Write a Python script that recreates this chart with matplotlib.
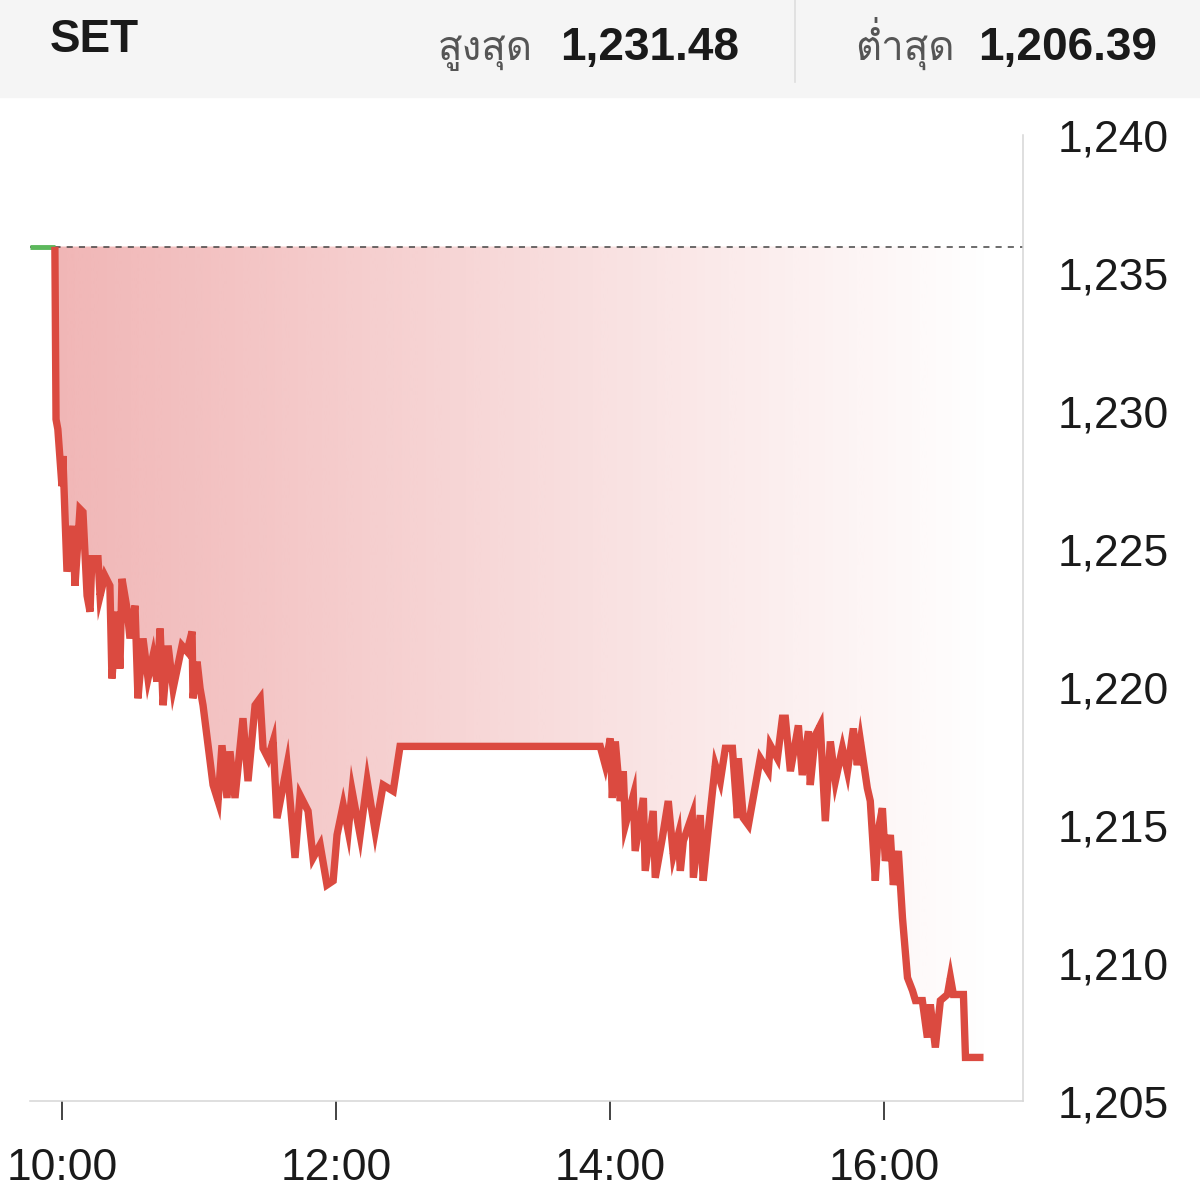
import numpy as np
import matplotlib
matplotlib.use("Agg")
import matplotlib.pyplot as plt
from matplotlib import font_manager
from matplotlib.ft2font import FT2Font
from matplotlib.colors import to_rgb

# SET index, intraday (minutes after 10:00)
prev_close = 1235.96
day_high = "1,231.48"
day_low = "1,206.39"
pre_open = [-14.0, -3.1]

minutes = [
    -3.1, -2.6, -1.8, 0.0, 0.4, 2.2, 4.8, 5.7, 7.9, 9.2, 11.0, 12.3, 13.1, 15.8,
    16.7, 18.8, 21.0, 21.9, 24.1, 25.4, 26.3, 28.5, 29.8, 32.0, 33.3, 35.5, 37.7,
    39.9, 41.6, 43.0, 44.3, 46.5, 48.7, 52.6, 54.8, 57.0, 57.4, 59.2, 60.5, 61.8,
    64.0, 66.2, 68.4, 70.1, 72.3, 73.6, 75.8, 79.3, 81.5, 84.6, 86.8, 88.1, 90.3,
    92.5, 94.2, 98.6, 102.1, 104.3, 107.8, 110.0, 113.1, 116.1, 118.8, 120.5,
    123.2, 125.4, 127.1, 130.6, 133.7, 137.2, 140.7, 145.1, 148.1,
    235.8, 238.0, 240.2, 241.1, 242.4, 244.6, 245.9, 246.8, 250.3, 251.1, 254.7,
    255.5, 259.0, 259.9, 263.0, 265.6, 267.8, 270.0, 270.9, 272.2, 276.1, 276.6,
    279.6, 280.9, 283.1, 286.2, 288.4, 290.6, 293.7, 295.9, 296.3, 298.5, 300.7,
    305.9, 309.4, 310.3, 313.4, 315.6, 316.9, 319.1, 322.6, 324.3, 327.0, 327.8,
    330.0, 332.2, 334.4, 336.6, 338.8, 341.9, 344.1, 346.7, 348.4, 349.8, 352.8,
    354.1, 356.3, 357.6, 359.4, 360.7, 362.9, 364.2, 366.4, 368.2, 370.4, 372.6,
    373.9, 376.9, 379.1, 380.4, 382.6, 384.8, 387.9, 389.2, 390.5, 394.9, 395.8,
    403.7,
]
values = [
    1235.95, 1229.70, 1229.34, 1227.28, 1228.37, 1224.18, 1225.84, 1223.67,
    1226.45, 1226.34, 1223.31, 1222.73, 1224.65, 1224.65, 1223.31, 1224.03,
    1223.67, 1220.31, 1222.73, 1220.67, 1223.92, 1222.84, 1221.76, 1222.95,
    1219.59, 1221.76, 1220.31, 1221.14, 1220.20, 1222.12, 1219.34, 1221.50,
    1219.95, 1221.50, 1221.29, 1222.01, 1219.59, 1220.92, 1219.95, 1219.34,
    1217.89, 1216.45, 1215.87, 1217.89, 1215.98, 1217.67, 1215.98, 1218.87,
    1216.59, 1219.34, 1219.59, 1217.78, 1217.42, 1218.03, 1215.25, 1217.17,
    1213.81, 1216.08, 1215.51, 1213.81, 1214.28, 1212.83, 1212.98, 1214.64,
    1215.72, 1214.78, 1216.23, 1214.64, 1216.59, 1214.78, 1216.45, 1216.23,
    1217.85,
    1217.85, 1217.17, 1218.14, 1215.98, 1218.03, 1215.87, 1216.95, 1215.00,
    1216.08, 1214.06, 1215.98, 1213.34, 1215.51, 1213.09, 1214.53, 1215.87,
    1213.92, 1214.64, 1213.34, 1214.42, 1215.36, 1213.09, 1215.36, 1212.98,
    1214.78, 1217.17, 1216.59, 1217.78, 1217.78, 1215.25, 1217.42, 1215.25,
    1215.00, 1217.42, 1216.95, 1217.89, 1217.42, 1218.87, 1218.87, 1216.95,
    1218.61, 1216.81, 1218.40, 1216.45, 1218.25, 1218.61, 1215.14, 1218.03,
    1216.59, 1217.78, 1216.95, 1218.50, 1217.17, 1218.03, 1216.34, 1215.87,
    1212.98, 1214.80, 1215.61, 1213.70, 1214.64, 1212.83, 1214.06, 1211.64,
    1209.47, 1209.00, 1208.64, 1208.64, 1207.30, 1208.50, 1206.94, 1208.64,
    1208.86, 1209.47, 1208.86, 1208.86, 1206.58, 1206.58,
]
tick_minutes = [0, 120, 240, 360]
tick_labels = ["10:00", "12:00", "14:00", "16:00"]
y_ticks = [1205, 1210, 1215, 1220, 1225, 1230, 1235, 1240]


def find_thai_font():
    # look for any installed font that carries Thai glyphs
    for f in font_manager.fontManager.ttflist:
        try:
            if 0x0E2A in FT2Font(f.fname).get_charmap():
                return f.name
        except Exception:
            pass
    return "DejaVu Sans"


thai = find_thai_font()
plt.rcParams["font.family"] = ["Liberation Sans", "DejaVu Sans"]

fig = plt.figure(figsize=(12, 11.96), dpi=100)
ax = fig.add_axes([0.025, 0.0794, 0.8275, 0.8077])

red = "#db4a40"

# gradient fill between the line and previous close
poly = ax.fill_between(minutes, values, prev_close, color="none", lw=0)
grad = np.linspace(0.46, 0.0, 256).reshape(1, -1)
rgba = np.zeros((1, 256, 4))
rgba[..., :3] = to_rgb("#e06060")
rgba[..., 3] = grad
im = ax.imshow(rgba, extent=[minutes[0], 408, 1205, prev_close],
               aspect="auto", origin="lower", zorder=1, interpolation="bilinear")
im.set_clip_path(poly.get_paths()[0], transform=ax.transData)

ax.axhline(prev_close, color="#444444", lw=1.1, dashes=(4, 4), zorder=2)
ax.plot(pre_open, [prev_close, prev_close], color="#5cb85c", lw=3.5,
        solid_capstyle="butt", zorder=3)
ax.plot(minutes, values, color=red, lw=5.3, solid_joinstyle="miter",
        solid_capstyle="butt", zorder=4)

ax.set_xlim(-14, 421)
ax.set_ylim(1205.07, 1240)

ax.set_xticks(tick_minutes)
ax.set_xticklabels(tick_labels)
ax.set_yticks(y_ticks)
ax.set_yticklabels([f"{v:,}" for v in y_ticks])
ax.yaxis.tick_right()
ax.tick_params(axis="y", length=0, pad=25, labelsize=32, labelcolor="#1a1a1a")
ax.tick_params(axis="x", length=14, width=1.1, color="#111111", pad=20,
               labelsize=32, labelcolor="#1a1a1a")

for side in ["left", "top"]:
    ax.spines[side].set_visible(False)
for side in ["right", "bottom"]:
    ax.spines[side].set_color("#d6d6d6")
    ax.spines[side].set_linewidth(1.1)

# header band
fig.patches.append(plt.Rectangle((0, 1 - 97 / 1196), 1, 97 / 1196,
                                 transform=fig.transFigure, color="#f5f5f5",
                                 zorder=0))
fig.add_artist(plt.Line2D([795 / 1200, 795 / 1200], [1 - 82 / 1196, 1],
                          transform=fig.transFigure, color="#dddddd", lw=1.2))

base = 1 - 60 / 1196
fig.text(50 / 1200, 1 - 40 / 1196, "SET", fontsize=33, fontweight="bold",
         color="#1a1a1a", va="center")
fig.text(438 / 1200, base, "สูงสุด", fontsize=29, color="#555555",
         va="baseline", family=[thai, "DejaVu Sans"])
fig.text(560 / 1200, base, day_high, fontsize=33, fontweight="bold",
         color="#1a1a1a", va="baseline")
fig.text(855 / 1200, base, "ต่ำสุด", fontsize=29, color="#555555",
         va="baseline", family=[thai, "DejaVu Sans"])
fig.text(978 / 1200, base, day_low, fontsize=33, fontweight="bold",
         color="#1a1a1a", va="baseline")

fig.savefig("out.png", dpi=100)
